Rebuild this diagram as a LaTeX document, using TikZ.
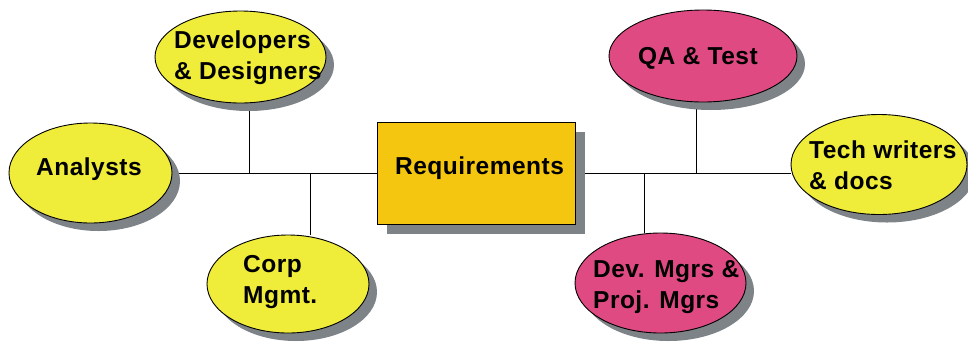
\documentclass[tikz,border=0pt]{standalone}
\usepackage{fontspec}
\setmainfont{Liberation Sans}
\usetikzlibrary{shapes.geometric,shadows,backgrounds}
\definecolor{ylw}{RGB}{240,236,58}
\definecolor{pnk}{RGB}{223,74,130}
\definecolor{org}{RGB}{245,198,15}
\definecolor{shd}{RGB}{125,131,135}
\tikzset{
  shad/.style={drop shadow={shadow xshift=8pt,shadow yshift=-8pt,fill=shd,opacity=1}},
  oval/.style={ellipse,draw=black,line width=0.9pt,inner sep=0pt,shad},
  yoval/.style={oval,fill=ylw},
  poval/.style={oval,fill=pnk},
  reqbox/.style={rectangle,draw=black,line width=0.9pt,fill=org,inner sep=0pt,
    drop shadow={shadow xshift=10pt,shadow yshift=-10pt,fill=shd,opacity=1}},
  lbl/.style={anchor=base west,align=left,inner sep=0pt,
    font=\fontsize{24.5}{31}\selectfont\bfseries\addfontfeatures{LetterSpace=2}},
  conn/.style={draw=black,line width=1pt}
}
\begin{document}
\begin{tikzpicture}[x=1pt,y=-1pt]
\useasboundingbox (0,0) rectangle (968,341);
% shapes
\node[yoval,minimum width=171pt,minimum height=92pt] (dev) at (240.5,57) {};
\node[yoval,minimum width=163pt,minimum height=100pt] (ana) at (90.5,173) {};
\node[yoval,minimum width=162pt,minimum height=98pt] (corp) at (288,284) {};
\node[reqbox,minimum width=198pt,minimum height=102pt] (req) at (476,173) {};
\node[poval,minimum width=188pt,minimum height=92pt] (qa) at (703,56) {};
\node[yoval,minimum width=176pt,minimum height=100pt] (tech) at (879,164.5) {};
\node[poval,minimum width=171pt,minimum height=100pt] (mgr) at (660.5,283) {};
% labels (base anchor = baseline of last line)
\node[lbl] (tdev) at (174,79) {Developers\\\& Designers};
\node[lbl] (tana) at (36,175) {Analysts};
\node[lbl] (tcorp) at (243,303) {Corp\\Mgmt.};
\node[lbl] (treq) at (395,174) {Requirements};
\node[lbl] (tqa) at (638,64) {QA \& Test};
\node[lbl] (ttech) at (809,189) {Tech writers\\\& docs};
\node[lbl] (tmgr) at (593,308) {Dev. Mgrs \&\\Proj. Mgrs};
% junctions
\coordinate (j1) at (249,173);
\coordinate (j2) at (310,173);
\coordinate (j3) at (644,173);
\coordinate (j4) at (696,173);
\begin{pgfonlayer}{background}
\draw[conn] (ana.east) -- (req.west);
\draw[conn] (req.east) -- (req.east -| tech.west);
\draw[conn] (j1) -- (j1 |- dev.south);
\draw[conn] (j2) -- (j2 |- corp.north);
\draw[conn] (j3) -- (j3 |- mgr.north);
\draw[conn] (j4) -- (j4 |- qa.south);
\end{pgfonlayer}
\end{tikzpicture}
\end{document}
